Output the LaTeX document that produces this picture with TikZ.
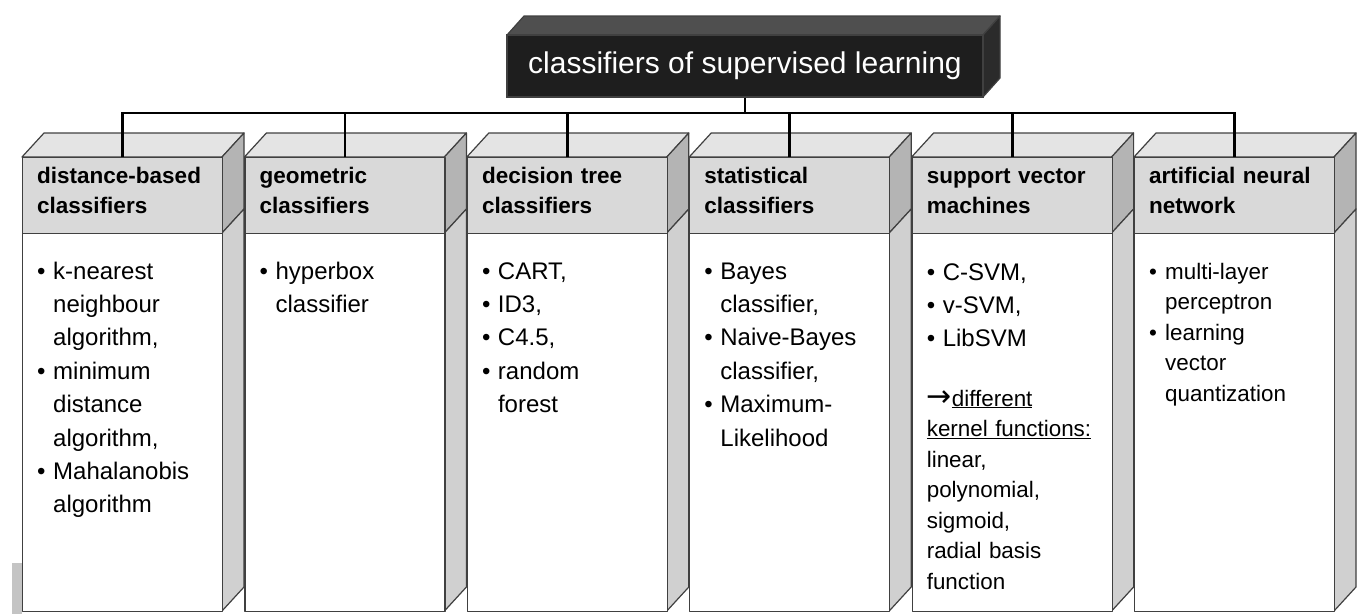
\documentclass[tikz,border=0pt]{standalone}
\usepackage{fontspec}
\setmainfont{Liberation Sans}
\newfontfamily\arrowfont{DejaVu Sans}
\definecolor{edge}{HTML}{404040}
\definecolor{topf}{HTML}{E4E4E4}
\definecolor{headf}{HTML}{D9D9D9}
\definecolor{sideh}{HTML}{B4B4B4}
\definecolor{sideb}{HTML}{D0D0D0}
\definecolor{rtop}{HTML}{4F4F4F}
\definecolor{rfront}{HTML}{1E1E1E}
\definecolor{rside}{HTML}{2B2B2B}
\definecolor{strip}{HTML}{C4C4C4}
\newcommand\bulx{\makebox[16pt][l]{•}}
\newcommand\indx{\hspace*{16pt}}
\tikzset{
  face/.style={draw=edge, line width=1.2pt, line join=round},
  headbox/.style={face, fill=headf, minimum width=200pt, minimum height=76pt, inner sep=0pt, anchor=north west},
  bodybox/.style={face, fill=white, minimum width=200pt, minimum height=378pt, inner sep=0pt, anchor=north west},
  rootbox/.style={draw=edge, line width=1.2pt, fill=rfront, text=white, minimum width=476pt, minimum height=62pt, inner sep=0pt, font=\fontsize{30}{36}\selectfont},
  headtext/.style={anchor=base west, inner sep=0pt, text width=185pt, align=left, font=\fontsize{22.5}{30}\selectfont\bfseries},
  bodytext/.style={anchor=base west, inner sep=0pt, text width=190pt, align=left, font=\fontsize{24}{33.4}\selectfont},
  smalltext/.style={anchor=base west, inner sep=0pt, text width=190pt, align=left, font=\fontsize{22.4}{30.5}\selectfont},
  bus/.style={line width=2.7pt, black, line join=miter},
}
\begin{document}
\begin{tikzpicture}[x=1pt,y=-1pt]
\useasboundingbox (0,0) rectangle (1357,614);
% root 3D box
\filldraw[face, fill=rtop] (507,35) -- (524,16) -- (1000,16) -- (983,35) -- cycle;
\filldraw[face, fill=rside] (983,35) -- (1000,16) -- (1000,78) -- (983,97) -- cycle;
\node[rootbox] (root) at (745,66) {classifiers of supervised learning};
% small grey strip at bottom left
\fill[strip] (12,563) rectangle (22,614);
% columns
\foreach \i in {0,...,5}{
  \pgfmathsetmacro\fl{22+222.4*\i}
  \pgfmathsetmacro\fr{\fl+200}
  \pgfmathsetmacro\br{\fr+22}
  \pgfmathsetmacro\bl{\fl+22}
  \filldraw[face, fill=topf] (\fl,157) -- (\bl,133) -- (\br,133) -- (\fr,157) -- cycle;
  \filldraw[face, fill=sideh] (\fr,157) -- (\br,133) -- (\br,209) -- (\fr,233) -- cycle;
  \filldraw[face, fill=sideb] (\fr,233) -- (\br,209) -- (\br,587) -- (\fr,611) -- cycle;
  \node[headbox] (h\i) at (\fl,157) {};
  \node[bodybox] (b\i) at (\fl,233) {};
}
% connectors
\coordinate (j) at (745,113);
\draw[bus] (root.south) -- (j);
\draw[bus] (h0.north) |- (j) -| (h5.north);
\foreach \i in {1,...,4}{
  \draw[bus] (h\i.north) -- (h\i.north |- j);
}
% header texts
\node[headtext] (ht0) at ([xshift=15pt]h0.north west |- 0,183) {distance-based\\classifiers};
\node[headtext] (ht1) at ([xshift=15pt]h1.north west |- 0,183) {geometric\\classifiers};
\node[headtext] (ht2) at ([xshift=15pt]h2.north west |- 0,183) {decision tree\\classifiers};
\node[headtext] (ht3) at ([xshift=15pt]h3.north west |- 0,183) {statistical\\classifiers};
\node[headtext] (ht4) at ([xshift=15pt]h4.north west |- 0,183) {support vector\\machines};
\node[headtext] (ht5) at ([xshift=15pt]h5.north west |- 0,183) {artificial neural\\network};
% body texts
\node[bodytext] (bt0) at ([xshift=15pt]b0.north west |- 0,279)
  {\bulx k-nearest\\ \indx neighbour\\ \indx algorithm,\\ \bulx minimum\\ \indx distance\\ \indx algorithm,\\ \bulx Mahalanobis\\ \indx algorithm};
\node[bodytext] (bt1) at ([xshift=15pt]b1.north west |- 0,279)
  {\bulx hyperbox\\ \indx classifier};
\node[bodytext] (bt2) at ([xshift=15pt]b2.north west |- 0,279)
  {\bulx CART,\\ \bulx ID3,\\ \bulx C4.5,\\ \bulx random\\ \indx forest};
\node[bodytext] (bt3) at ([xshift=15pt]b3.north west |- 0,279)
  {\bulx Bayes\\ \indx classifier,\\ \bulx Naive-Bayes\\ \indx classifier,\\ \bulx Maximum-\\ \indx Likelihood};
\node[bodytext] (bt4) at ([xshift=15pt]b4.north west |- 0,280)
  {\bulx C-SVM,\\ \bulx v-SVM,\\ \bulx LibSVM};
\node[smalltext] (bk4) at ([xshift=15pt]b4.north west |- 0,406)
  {{\arrowfont\fontsize{30}{30}\selectfont →}\underline{different}\\ \underline{kernel functions:}\\ linear,\\ polynomial,\\ sigmoid,\\ radial basis\\ function};
\node[smalltext] (bt5) at ([xshift=15pt]b5.north west |- 0,279)
  {\bulx multi-layer\\ \indx perceptron\\ \bulx learning\\ \indx vector\\ \indx quantization};
\end{tikzpicture}
\end{document}
